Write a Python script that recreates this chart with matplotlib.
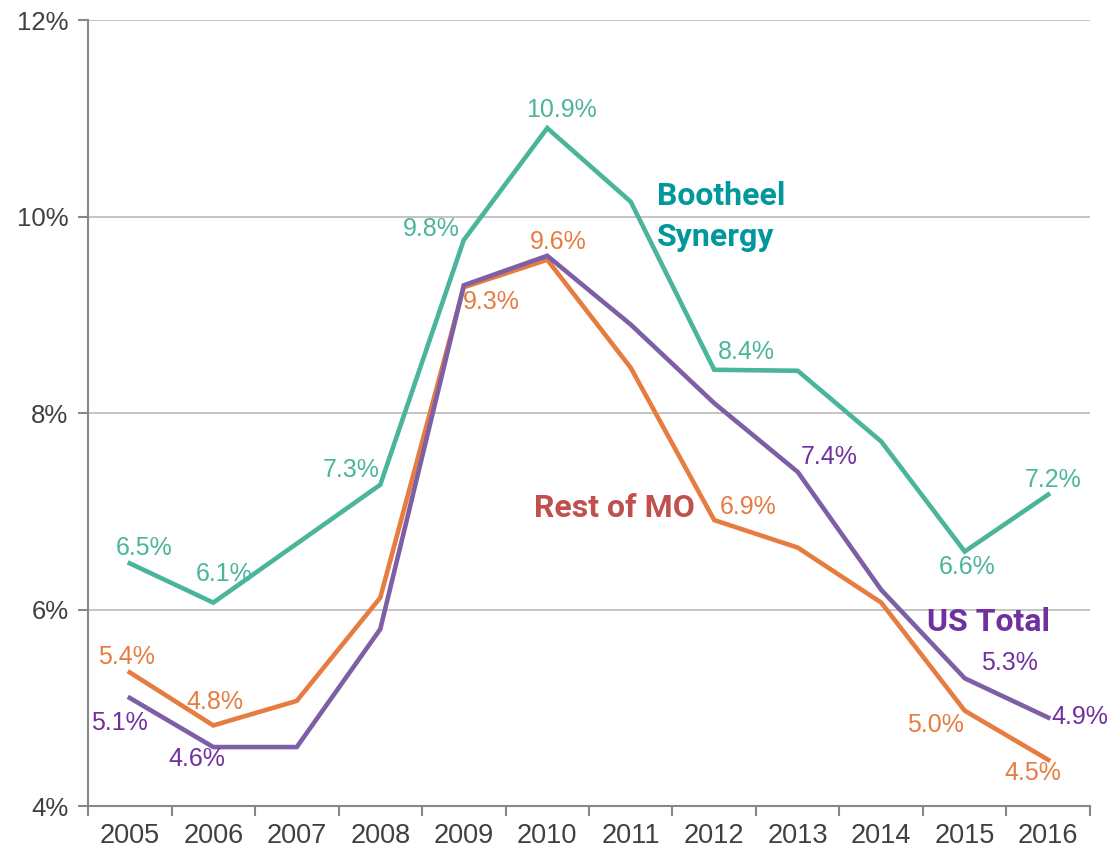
import matplotlib
matplotlib.use('Agg')
import matplotlib.pyplot as plt
from matplotlib.ticker import FixedLocator, FuncFormatter

# Data (percent)
years = ['2005', '2006', '2007', '2008', '2009', '2010',
         '2011', '2012', '2013', '2014', '2015', '2016']
bootheel = [6.47, 6.07, 6.67, 7.27, 9.76, 10.9, 10.15, 8.44, 8.43, 7.71, 6.59, 7.17]
rest_mo = [5.36, 4.82, 5.07, 6.12, 9.28, 9.56, 8.46, 6.91, 6.63, 6.07, 4.97, 4.47]
us_total = [5.1, 4.6, 4.6, 5.8, 9.3, 9.6, 8.9, 8.1, 7.4, 6.2, 5.3, 4.9]

# which points carry a value label, and where the label sits (pixel offset)
bootheel_labels = {0: (14, 15), 1: (11, 29), 3: (-29, 15), 4: (-32, 11),
                   5: (14, 18), 7: (32, 18), 10: (2, -15), 11: (5, 15)}
rest_mo_labels = {0: (-3, 15), 1: (2, 23), 4: (28, -15), 5: (11, 18),
                  7: (34, 13), 10: (-29, -14), 11: (-15, -13)}
us_labels = {0: (-10, -25), 1: (-16, -12), 8: (31, 15), 10: (45, 15), 11: (32, 1)}

teal_line = '#4BB59B'
orange_line = '#E67C3F'
purple_line = '#7D5FA6'
purple_text = '#7030A0'

plt.rcParams['font.family'] = ['Liberation Sans', 'DejaVu Sans']
name_font = ['Roboto', 'DejaVu Sans']

fig = plt.figure(figsize=(11.13, 8.55), dpi=100)
ax = fig.add_axes([0.0791, 0.0573, 0.9002, 0.9193])

x = list(range(len(years)))
series = [
    (bootheel, teal_line, teal_line, bootheel_labels),
    (rest_mo, orange_line, orange_line, rest_mo_labels),
    (us_total, purple_line, purple_text, us_labels),
]
for values, lc, tc, labels in series:
    ax.plot(x, values, color=lc, linewidth=3.3, solid_joinstyle='miter', zorder=3)
    for i, (dx, dy) in labels.items():
        ax.annotate(f'{values[i]:.1f}%', (x[i], values[i]), xytext=(dx, dy),
                    textcoords='offset pixels', ha='center', va='center',
                    fontsize=18, color=tc, zorder=4)

# series names
ax.text(6.31, 10.0, 'Bootheel\nSynergy', ha='left', va='center', fontsize=23,
        fontweight='bold', family=name_font, color='#00989C', linespacing=1.45)
ax.text(5.80, 7.03, 'Rest of MO', ha='center', va='center', fontsize=23,
        fontweight='bold', family=name_font, color='#C0504D')
ax.text(10.29, 5.87, 'US Total', ha='center', va='center', fontsize=23,
        fontweight='bold', family=name_font, color=purple_text)

ax.set_xlim(-0.5, len(years) - 0.5)
ax.set_ylim(4, 12)

ax.set_xticks(x)
ax.set_xticklabels(years)
ax.xaxis.set_minor_locator(FixedLocator([i - 0.5 for i in range(len(years) + 1)]))
ax.tick_params(axis='x', which='major', length=0, pad=12, labelsize=19.5, labelcolor='#404040')
ax.tick_params(axis='x', which='minor', length=7, width=1.5, color='#878787')

ax.set_yticks([4, 6, 8, 10, 12])
ax.yaxis.set_major_formatter(FuncFormatter(lambda v, p: f'{v:.0f}%'))
ax.tick_params(axis='y', length=7, width=1.5, color='#878787', pad=7,
               labelsize=18.5, labelcolor='#404040')

ax.grid(axis='y', color='#BFBFBF', linewidth=1.3)
ax.set_axisbelow(True)
for side in ['top', 'right']:
    ax.spines[side].set_visible(False)
for side in ['left', 'bottom']:
    ax.spines[side].set_color('#878787')
    ax.spines[side].set_linewidth(1.5)

fig.savefig('out.png', dpi=100)
